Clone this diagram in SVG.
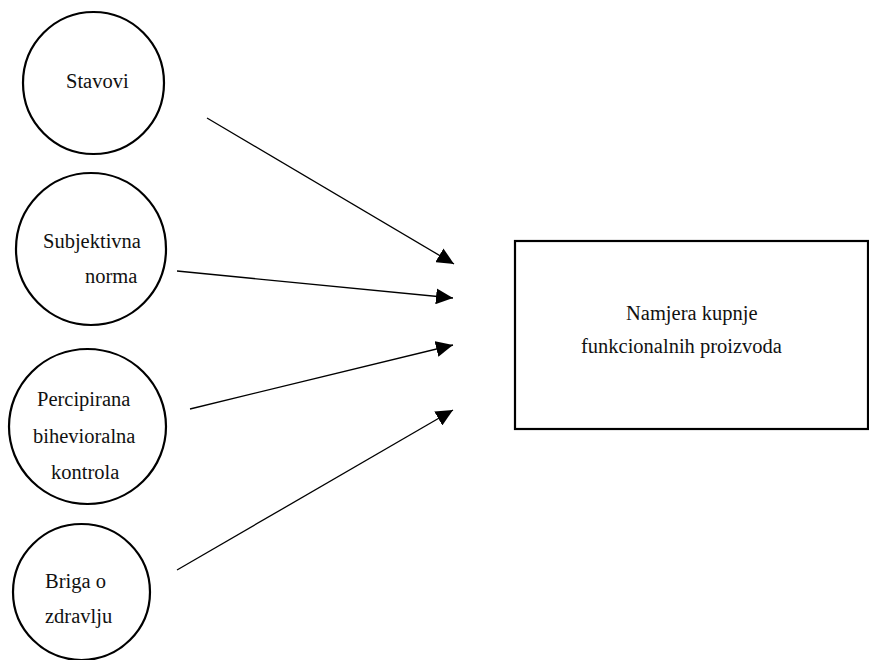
<svg xmlns="http://www.w3.org/2000/svg" width="869" height="660" viewBox="0 0 869 660">
<style>
.node{fill:#fff;stroke:#000;stroke-width:2.2}
.t{font-family:"Liberation Serif","Times New Roman",serif;font-size:20.5px;fill:#111}
.c{stroke:#000;stroke-width:1.3;fill:none;marker-end:url(#ah)}
</style>
<defs>
<marker id="ah" markerUnits="userSpaceOnUse" markerWidth="18" markerHeight="16" viewBox="0 0 18 16" refX="17" refY="8" orient="auto">
<path d="M0,0 L17,8 L0,16 z" fill="#000"/>
</marker>
</defs>
<rect width="869" height="660" fill="#fff"/>
<g id="n-stavovi">
<ellipse class="node" cx="93.5" cy="83" rx="70.5" ry="71"/>
<text class="t" x="66" y="88">Stavovi</text>
</g>
<g id="n-norma">
<ellipse class="node" cx="91" cy="249" rx="75" ry="76"/>
<text class="t" x="43" y="248">Subjektivna</text>
<text class="t" x="85" y="283">norma</text>
</g>
<g id="n-kontrola">
<ellipse class="node" cx="87.5" cy="426.5" rx="78.5" ry="77.5"/>
<text class="t" x="37" y="406">Percipirana</text>
<text class="t" x="33" y="443">bihevioralna</text>
<text class="t" x="51" y="479">kontrola</text>
</g>
<g id="n-briga">
<ellipse class="node" cx="81.5" cy="592" rx="68.5" ry="68"/>
<text class="t" x="45" y="588">Briga o</text>
<text class="t" x="45" y="623">zdravlju</text>
</g>
<g id="n-namjera">
<rect class="node" x="515" y="241" width="353" height="188"/>
<text class="t" x="626" y="320">Namjera kupnje</text>
<text class="t" x="581" y="353">funkcionalnih proizvoda</text>
</g>
<g id="connectors">
<line class="c" x1="207" y1="118" x2="454" y2="264"/>
<line class="c" x1="177" y1="271" x2="453" y2="298"/>
<line class="c" x1="190" y1="409" x2="453" y2="345"/>
<line class="c" x1="177" y1="570" x2="453" y2="410"/>
</g>
</svg>
